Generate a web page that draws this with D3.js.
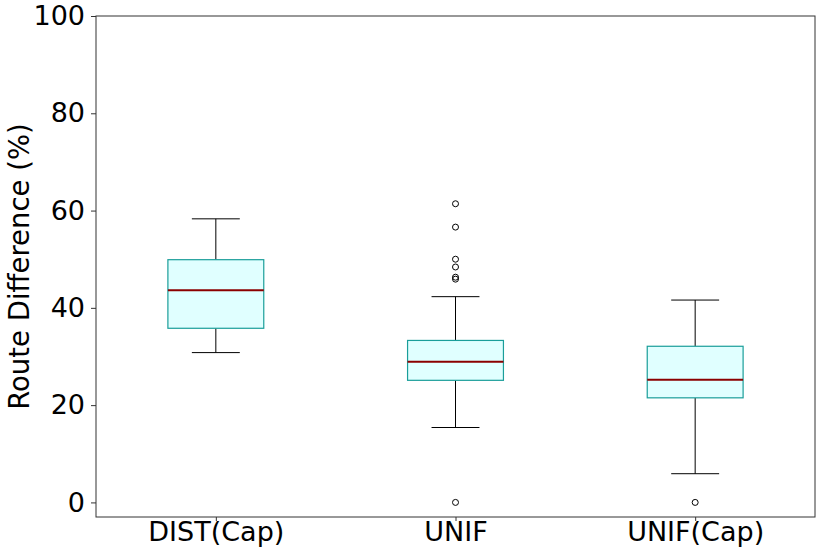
<!DOCTYPE html>
<html>
<head>
<meta charset="utf-8">
<script src="https://cdn.jsdelivr.net/npm/d3@7"></script>
<style>
  body { margin: 0; background: #fff; }
  text { font-family: "DejaVu Sans", sans-serif; }
</style>
</head>
<body>
<div id="chart"></div>
<script>
// Box plot statistics
var categories = ["DIST(Cap)", "UNIF", "UNIF(Cap)"];
var whiskerLow = [30.8, 15.4, 5.9];
var q1 = [35.8, 25.1, 21.5];
var medians = [43.6, 28.9, 25.2];
var q3 = [49.9, 33.3, 32.1];
var whiskerHigh = [58.3, 42.3, 41.6];
var outliers = [
    [],
    [61.4, 56.6, 50.0, 48.4, 46.3, 45.9, 0],
    [0]
];
var yTicks = [0, 20, 40, 60, 80, 100];

var margin = { top: 16, right: 7, bottom: 40, left: 96 },
    width = 822 - margin.left - margin.right,
    height = 557 - margin.top - margin.bottom;

var svg = d3.select("#chart")
    .append("svg")
    .attr("width", 822)
    .attr("height", 557)
    .append("g")
    .attr("transform", "translate(" + margin.left + "," + margin.top + ")");

//Scales: positions 1..3 like matplotlib, x range 0.5..3.5
var x = d3.scaleLinear().domain([0.5, 3.5]).range([0, width]);
var y = d3.scaleLinear().domain([-3, 100]).range([height, 0]);

var boxW = x(1.2) - x(1);   // half width of box
var capW = boxW / 2;

var boxes = categories.map(function (c, i) {
    return {
        pos: i + 1, lo: whiskerLow[i], q1: q1[i], med: medians[i],
        q3: q3[i], hi: whiskerHigh[i], out: outliers[i]
    };
});

var g = svg.selectAll(".box")
    .data(boxes)
    .enter().append("g")
    .attr("class", "box");

//Whiskers
g.append("line")
    .attr("x1", function (d) { return x(d.pos); })
    .attr("x2", function (d) { return x(d.pos); })
    .attr("y1", function (d) { return y(d.q3); })
    .attr("y2", function (d) { return y(d.hi); })
    .attr("stroke", "#000").attr("stroke-width", 1);
g.append("line")
    .attr("x1", function (d) { return x(d.pos); })
    .attr("x2", function (d) { return x(d.pos); })
    .attr("y1", function (d) { return y(d.q1); })
    .attr("y2", function (d) { return y(d.lo); })
    .attr("stroke", "#000").attr("stroke-width", 1);

//Caps
["hi", "lo"].forEach(function (k) {
    g.append("line")
        .attr("x1", function (d) { return x(d.pos) - capW; })
        .attr("x2", function (d) { return x(d.pos) + capW; })
        .attr("y1", function (d) { return y(d[k]); })
        .attr("y2", function (d) { return y(d[k]); })
        .attr("stroke", "#000").attr("stroke-width", 1);
});

//Boxes
g.append("rect")
    .attr("x", function (d) { return x(d.pos) - boxW; })
    .attr("width", boxW * 2)
    .attr("y", function (d) { return y(d.q3); })
    .attr("height", function (d) { return y(d.q1) - y(d.q3); })
    .attr("fill", "#e0ffff")
    .attr("stroke", "#1a9e9a")
    .attr("stroke-width", 1.2);

//Medians
g.append("line")
    .attr("x1", function (d) { return x(d.pos) - boxW; })
    .attr("x2", function (d) { return x(d.pos) + boxW; })
    .attr("y1", function (d) { return y(d.med); })
    .attr("y2", function (d) { return y(d.med); })
    .attr("stroke", "#8b0000").attr("stroke-width", 2);

//Outliers
g.selectAll("circle")
    .data(function (d) { return d.out.map(function (v) { return { pos: d.pos, v: v }; }); })
    .enter().append("circle")
    .attr("cx", function (d) { return x(d.pos); })
    .attr("cy", function (d) { return y(d.v); })
    .attr("r", 3)
    .attr("fill", "none")
    .attr("stroke", "#000")
    .attr("stroke-width", 1);

//Axes
var yAxis = svg.append("g")
    .call(d3.axisLeft(y).tickValues(yTicks).tickSize(5).tickPadding(6));
var xAxis = svg.append("g")
    .attr("transform", "translate(0," + height + ")")
    .call(d3.axisBottom(x).tickValues([1, 2, 3])
        .tickFormat(function (d) { return categories[d - 1]; })
        .tickSize(4).tickPadding(1));
[xAxis, yAxis].forEach(function (a) {
    a.select(".domain").remove();
    a.selectAll("line").attr("stroke", "#333");
    a.selectAll("text").style("font-size", "27px").attr("fill", "#000")
        .style("font-family", "'DejaVu Sans', sans-serif");
});

//Frame
svg.append("rect")
    .attr("width", width).attr("height", height)
    .attr("fill", "none").attr("stroke", "#333").attr("stroke-width", 1);

//Y label
svg.append("text")
    .attr("transform", "rotate(-90)")
    .attr("x", -height / 2)
    .attr("y", -67)
    .attr("text-anchor", "middle")
    .style("font-size", "27.5px")
    .text("Route Difference (%)");
</script>
</body>
</html>
